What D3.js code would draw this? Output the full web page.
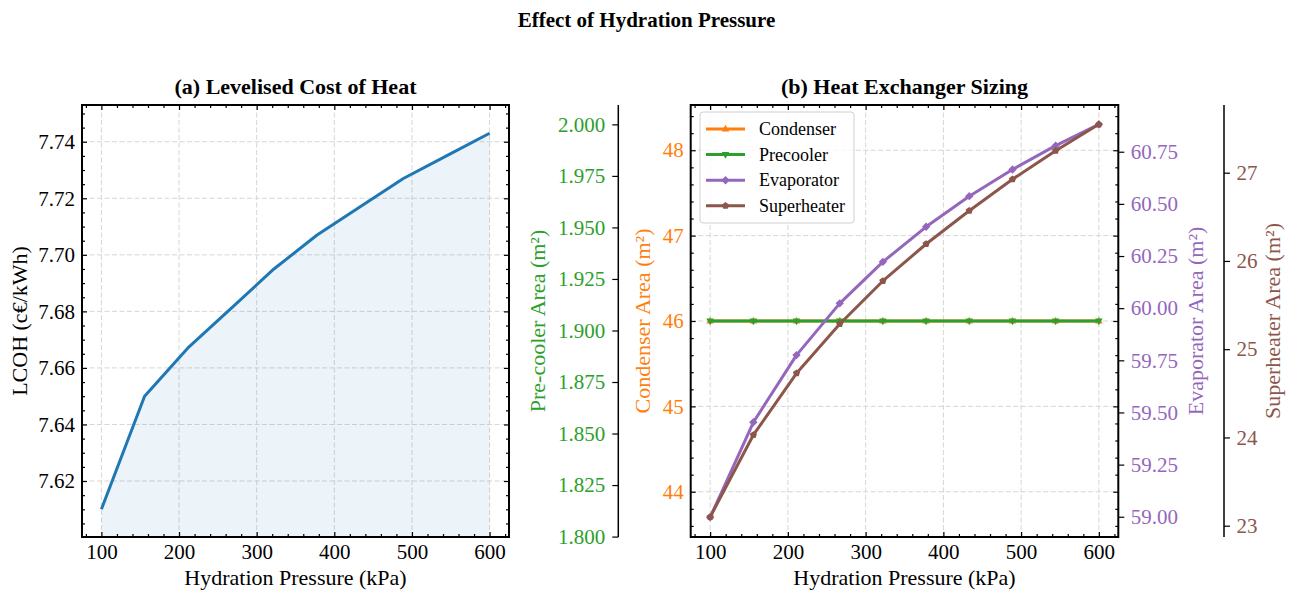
<!DOCTYPE html>
<html>
<head>
<meta charset="utf-8">
<script src="https://cdn.jsdelivr.net/npm/d3@7"></script>
<style>
  body { margin: 0; background: #fff; }
  svg, svg text { font-family: "Liberation Serif", "Times New Roman", serif; }
  .grid line { stroke: #d6d6d6; stroke-width: 1; stroke-dasharray: 5,2.5; }
  .axis path { display: none; }
  .axis line { stroke: #000; stroke-width: 1.2; }
</style>
</head>
<body>
<div id="chart"></div>
<script>
// ---- data ----
var pressure    = [100, 155.6, 211.1, 266.7, 322.2, 377.8, 433.3, 488.9, 544.4, 600];
var lcoh        = [7.610, 7.650, 7.667, 7.681, 7.695, 7.707, 7.717, 7.727, 7.735, 7.743];
var condenser   = [46.0, 46.0, 46.0, 46.0, 46.0, 46.0, 46.0, 46.0, 46.0, 46.0];
var precooler   = [1.9046, 1.9046, 1.9046, 1.9046, 1.9046, 1.9046, 1.9046, 1.9046, 1.9046, 1.9046];
var evaporator  = [58.997, 59.453, 59.775, 60.023, 60.222, 60.390, 60.537, 60.665, 60.779, 60.881];
var superheater = [23.099, 24.028, 24.727, 25.286, 25.773, 26.192, 26.569, 26.925, 27.249, 27.548];

var xTicks    = [100, 200, 300, 400, 500, 600];
var lcohTicks = [7.62, 7.64, 7.66, 7.68, 7.70, 7.72, 7.74];
var condTicks = [44, 45, 46, 47, 48];
var preTicks  = [1.800, 1.825, 1.850, 1.875, 1.900, 1.925, 1.950, 1.975, 2.000];
var evapTicks = [59.00, 59.25, 59.50, 59.75, 60.00, 60.25, 60.50, 60.75];
var supTicks  = [23, 24, 25, 26, 27];

var seriesNames = ["Condenser", "Precooler", "Evaporator", "Superheater"];

// ---- layout ----
var fullwidth = 1293, fullheight = 591;
var plotTop = 105, plotBottom = 537;
var panelA = {left: 82, right: 509};
var panelB = {left: 690.7, right: 1118.3};
var tickFont = 21, labelFont = 22;
var serif = "'Liberation Serif', 'Times New Roman', serif";

var colors = {blue: "#1f77b4", orange: "#ff7f0e", green: "#2ca02c", purple: "#9467bd", brown: "#8c564b"};

var svg = d3.select("#chart").append("svg")
    .attr("width", fullwidth)
    .attr("height", fullheight);

// scales
var xA = d3.scaleLinear().domain([75, 625]).range([panelA.left, panelA.right]);
var yA = d3.scaleLinear().domain([7.6002, 7.7530]).range([plotBottom, plotTop]);

var xB = d3.scaleLinear().domain([75, 625]).range([panelB.left, panelB.right]);
var yCond = d3.scaleLinear().domain([43.47, 48.53]).range([plotBottom, plotTop]);
var yPre  = d3.scaleLinear().domain([1.7998, 2.0094]).range([plotBottom, plotTop]);
var yEvap = d3.scaleLinear().domain([58.903, 60.974]).range([plotBottom, plotTop]);
var ySup  = d3.scaleLinear().domain([22.872, 27.767]).range([plotBottom, plotTop]);

function minorVals(scale, step, majorStep) {
    var d = scale.domain(), out = [];
    var n0 = Math.ceil(d[0] / step - 1e-9), n1 = Math.floor(d[1] / step + 1e-9);
    for (var i = n0; i <= n1; i++) {
        var v = i * step, r = v / majorStep;
        if (Math.abs(r - Math.round(r)) > 1e-6) out.push(v);
    }
    return out;
}

// draws ticks with optional labels; size < 0 means inward
function drawAxis(axisFn, scale, pos, isX, values, fmt, size, pad, color) {
    var ax = axisFn(scale).tickValues(values).tickSize(size).tickPadding(pad)
        .tickFormat(fmt ? d3.format(fmt) : "");
    var g = svg.append("g")
        .attr("class", "axis")
        .attr("transform", isX ? "translate(0," + pos + ")" : "translate(" + pos + ",0)")
        .call(ax);
    g.attr("font-family", null).style("font-family", serif);
    g.selectAll("text")
        .attr("font-size", tickFont)
        .style("font-family", serif)
        .attr("fill", color || "#000");
    return g;
}

// ================= panel (a) =================
var gridA = svg.append("g").attr("class", "grid");
gridA.selectAll(".v").data(xTicks).enter().append("line")
    .attr("x1", d => xA(d)).attr("x2", d => xA(d))
    .attr("y1", plotTop).attr("y2", plotBottom);
gridA.selectAll(".h").data(lcohTicks).enter().append("line")
    .attr("x1", panelA.left).attr("x2", panelA.right)
    .attr("y1", d => yA(d)).attr("y2", d => yA(d));

var ptsA = pressure.map((p, i) => ({x: p, y: lcoh[i]}));

svg.append("path")
    .datum(ptsA)
    .attr("fill", colors.blue)
    .attr("fill-opacity", 0.08)
    .attr("d", d3.area()
        .x(d => xA(d.x))
        .y0(yA(yA.domain()[0]))
        .y1(d => yA(d.y)));

svg.append("path")
    .datum(ptsA)
    .attr("fill", "none")
    .attr("stroke", colors.blue)
    .attr("stroke-width", 3)
    .attr("stroke-linejoin", "round")
    .attr("d", d3.line().x(d => xA(d.x)).y(d => yA(d.y)));

// ticks panel (a)
drawAxis(d3.axisBottom, xA, plotBottom, true, xTicks, "d", -5, 7);
drawAxis(d3.axisBottom, xA, plotBottom, true, minorVals(xA, 20, 100), null, -3, 7);
drawAxis(d3.axisTop, xA, plotTop, true, xTicks, null, -5, 7);
drawAxis(d3.axisTop, xA, plotTop, true, minorVals(xA, 20, 100), null, -3, 7);
drawAxis(d3.axisLeft, yA, panelA.left, false, lcohTicks, ".2f", -5, 7);
drawAxis(d3.axisLeft, yA, panelA.left, false, minorVals(yA, 0.005, 0.02), null, -3, 7);
drawAxis(d3.axisRight, yA, panelA.right, false, lcohTicks, null, -5, 7);
drawAxis(d3.axisRight, yA, panelA.right, false, minorVals(yA, 0.005, 0.02), null, -3, 7);

svg.append("rect")
    .attr("x", panelA.left).attr("y", plotTop)
    .attr("width", panelA.right - panelA.left).attr("height", plotBottom - plotTop)
    .attr("fill", "none").attr("stroke", "#000").attr("stroke-width", 2);

// ================= panel (b) =================
var gridB = svg.append("g").attr("class", "grid");
gridB.selectAll(".v").data(xTicks).enter().append("line")
    .attr("x1", d => xB(d)).attr("x2", d => xB(d))
    .attr("y1", plotTop).attr("y2", plotBottom);
gridB.selectAll(".h").data(condTicks).enter().append("line")
    .attr("x1", panelB.left).attr("x2", panelB.right)
    .attr("y1", d => yCond(d)).attr("y2", d => yCond(d));

function markerPath(kind, r) {
    if (kind === "^") return "M0," + (-r) + "L" + (r * 0.9) + "," + (r * 0.6) + "L" + (-r * 0.9) + "," + (r * 0.6) + "Z";
    if (kind === "v") return "M0," + r + "L" + (r * 0.9) + "," + (-r * 0.6) + "L" + (-r * 0.9) + "," + (-r * 0.6) + "Z";
    if (kind === "D") return "M0," + (-r) + "L" + r + ",0L0," + r + "L" + (-r) + ",0Z";
    // pentagon
    var p = [];
    for (var k = 0; k < 5; k++) {
        var a = -Math.PI / 2 + k * 2 * Math.PI / 5;
        p.push((r * 0.9 * Math.cos(a)).toFixed(2) + "," + (r * 0.9 * Math.sin(a)).toFixed(2));
    }
    return "M" + p.join("L") + "Z";
}

var seriesB = [
    {name: seriesNames[0], values: condenser,   y: yCond, color: colors.orange, marker: "^"},
    {name: seriesNames[1], values: precooler,   y: yPre,  color: colors.green,  marker: "v"},
    {name: seriesNames[2], values: evaporator,  y: yEvap, color: colors.purple, marker: "D"},
    {name: seriesNames[3], values: superheater, y: ySup,  color: colors.brown,  marker: "p"}
];

seriesB.forEach(function (s) {
    var pts = pressure.map((p, i) => ({x: p, y: s.values[i]}));
    var g = svg.append("g");
    g.append("path")
        .datum(pts)
        .attr("fill", "none")
        .attr("stroke", s.color)
        .attr("stroke-width", 3)
        .attr("stroke-linejoin", "round")
        .attr("d", d3.line().x(d => xB(d.x)).y(d => s.y(d.y)));
    g.selectAll(".mk").data(pts).enter().append("path")
        .attr("transform", d => "translate(" + xB(d.x) + "," + s.y(d.y) + ")")
        .attr("d", markerPath(s.marker, 4.2))
        .attr("fill", s.color);
});

// ticks panel (b)
drawAxis(d3.axisBottom, xB, plotBottom, true, xTicks, "d", -5, 7);
drawAxis(d3.axisBottom, xB, plotBottom, true, minorVals(xB, 20, 100), null, -3, 7);
drawAxis(d3.axisTop, xB, plotTop, true, xTicks, null, -5, 7);
drawAxis(d3.axisTop, xB, plotTop, true, minorVals(xB, 20, 100), null, -3, 7);
drawAxis(d3.axisLeft, yCond, panelB.left, false, condTicks, "d", -5, 7, colors.orange);
drawAxis(d3.axisLeft, yCond, panelB.left, false, minorVals(yCond, 0.2, 1), null, -3, 7);
drawAxis(d3.axisRight, yCond, panelB.right, false, condTicks, null, -5, 7);
drawAxis(d3.axisRight, yCond, panelB.right, false, minorVals(yCond, 0.2, 1), null, -3, 7);
drawAxis(d3.axisRight, yEvap, panelB.right, false, evapTicks, ".2f", 6, 6.5, colors.purple);

// offset spines
var greenX = 618.3, brownX = 1224;
svg.append("line").attr("x1", greenX).attr("x2", greenX).attr("y1", plotTop).attr("y2", plotBottom)
    .attr("stroke", "#000").attr("stroke-width", 1.5);
drawAxis(d3.axisLeft, yPre, greenX, false, preTicks, ".3f", 6, 7, colors.green);
svg.append("line").attr("x1", brownX).attr("x2", brownX).attr("y1", plotTop).attr("y2", plotBottom)
    .attr("stroke", "#000").attr("stroke-width", 1.5);
drawAxis(d3.axisRight, ySup, brownX, false, supTicks, "d", 6, 6.5, colors.brown);

svg.append("rect")
    .attr("x", panelB.left).attr("y", plotTop)
    .attr("width", panelB.right - panelB.left).attr("height", plotBottom - plotTop)
    .attr("fill", "none").attr("stroke", "#000").attr("stroke-width", 2);

// legend
var legend = svg.append("g").attr("transform", "translate(700,112)");
legend.append("rect")
    .attr("width", 154).attr("height", 111).attr("rx", 3)
    .attr("fill", "#fff").attr("fill-opacity", 0.8)
    .attr("stroke", "#d0d0d0").attr("stroke-width", 1);
seriesB.forEach(function (s, i) {
    var ly = 17 + i * 25.6;
    legend.append("line")
        .attr("x1", 6).attr("x2", 45).attr("y1", ly).attr("y2", ly)
        .attr("stroke", s.color).attr("stroke-width", 3);
    legend.append("path")
        .attr("transform", "translate(25.5," + ly + ")")
        .attr("d", markerPath(s.marker, 4.2))
        .attr("fill", s.color);
    legend.append("text")
        .attr("x", 59).attr("y", ly + 6)
        .attr("font-size", 18)
        .text(s.name);
});

// ================= text =================
function label(x, y, txt, opts) {
    opts = opts || {};
    var t = svg.append("text")
        .attr("text-anchor", "middle")
        .attr("font-size", opts.size || labelFont)
        .attr("font-weight", opts.bold ? "bold" : "normal")
        .attr("fill", opts.color || "#000")
        .text(txt);
    if (opts.rotate) t.attr("transform", "translate(" + x + "," + y + ") rotate(-90)");
    else t.attr("x", x).attr("y", y);
    return t;
}

label(646.5, 27, "Effect of Hydration Pressure", {bold: true, size: 21});
label((panelA.left + panelA.right) / 2, 94, "(a) Levelised Cost of Heat", {bold: true});
label((panelB.left + panelB.right) / 2, 94, "(b) Heat Exchanger Sizing", {bold: true});
label((panelA.left + panelA.right) / 2, 585, "Hydration Pressure (kPa)");
label((panelB.left + panelB.right) / 2, 585, "Hydration Pressure (kPa)");
label(26.5, 321, "LCOH (c\u20ac/kWh)", {rotate: true});
label(544.5, 321, "Pre-cooler Area (m\u00b2)", {rotate: true, color: colors.green});
label(649.5, 321, "Condenser Area (m\u00b2)", {rotate: true, color: colors.orange});
label(1203, 321, "Evaporator Area (m\u00b2)", {rotate: true, color: colors.purple});
label(1279.5, 321, "Superheater Area (m\u00b2)", {rotate: true, color: colors.brown});
</script>
</body>
</html>
